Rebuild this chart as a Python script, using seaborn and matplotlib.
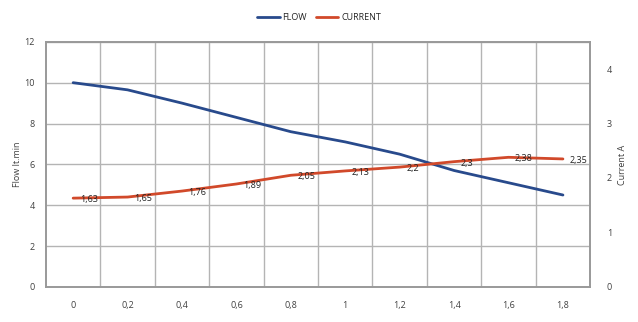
import numpy as np
import pandas as pd
import matplotlib.pyplot as plt
import seaborn as sns

pressure = ["0", "0,2", "0,4", "0,6", "0,8", "1", "1,2", "1,4", "1,6", "1,8"]
flow = [10.0, 9.65, 9.0, 8.3, 7.6, 7.1, 6.5, 5.7, 5.1, 4.5]
current = [1.63, 1.65, 1.76, 1.89, 2.05, 2.13, 2.2, 2.3, 2.38, 2.35]
current_labels = ["1,63", "1,65", "1,76", "1,89", "2,05", "2,13", "2,2", "2,3", "2,38", "2,35"]

df = pd.DataFrame({"x": np.arange(len(pressure)), "flow": flow, "current": current})

sns.set_style("white")
plt.rcParams["font.family"] = ["Open Sans", "DejaVu Sans"]

fig = plt.figure(figsize=(6.38, 3.22), dpi=100)
ax = fig.add_axes([0.072, 0.109, 0.853, 0.761])
ax2 = ax.twinx()

blue = "#284a8c"
red = "#d1492a"
grey = "#b4b4b4"

sns.lineplot(data=df, x="x", y="flow", ax=ax, color=blue, linewidth=2, label="FLOW", legend=False)
sns.lineplot(data=df, x="x", y="current", ax=ax2, color=red, linewidth=2, label="CURRENT", legend=False)

for i, (v, t) in enumerate(zip(current, current_labels)):
    ax2.text(i + 0.12, v - 0.03, t, fontsize=6.5, color="#222222", va="center", ha="left")

ax.set_xlim(-0.5, len(pressure) - 0.5)
ax.set_ylim(0, 12)
ax.set_yticks(range(0, 13, 2))
ax2.set_ylim(0, 4.5)
ax2.set_yticks(range(0, 5))

ax.set_xticks(range(len(pressure)))
ax.set_xticklabels(pressure)
ax.set_xticks(np.arange(0.5, len(pressure) - 0.5, 1), minor=True)
ax.grid(True, which="minor", axis="x", color=grey, linewidth=1)
ax.grid(True, which="major", axis="y", color=grey, linewidth=1)
ax.set_axisbelow(True)

for a in (ax, ax2):
    a.tick_params(length=0, labelsize=6.5, colors="#404040", which="both")
    for s in a.spines.values():
        s.set_color("#999999")
        s.set_linewidth(1.2)
ax.tick_params(axis="x", pad=10)
ax.tick_params(axis="y", pad=8)
ax2.tick_params(axis="y", pad=12)

ax.set_xlabel("")
ax.set_ylabel("Flow lt.min", fontsize=6.5, color="#404040", labelpad=2)
ax2.set_ylabel("Current A", fontsize=6.5, color="#404040", labelpad=4)

h1, l1 = ax.get_legend_handles_labels()
h2, l2 = ax2.get_legend_handles_labels()
fig.legend(h1 + h2, l1 + l2, loc="upper center", bbox_to_anchor=(0.5, 0.985), ncol=2,
           frameon=False, fontsize=6.5, handlelength=2.5, handletextpad=0.3, columnspacing=1.0)

fig.savefig("out.png", dpi=100)
